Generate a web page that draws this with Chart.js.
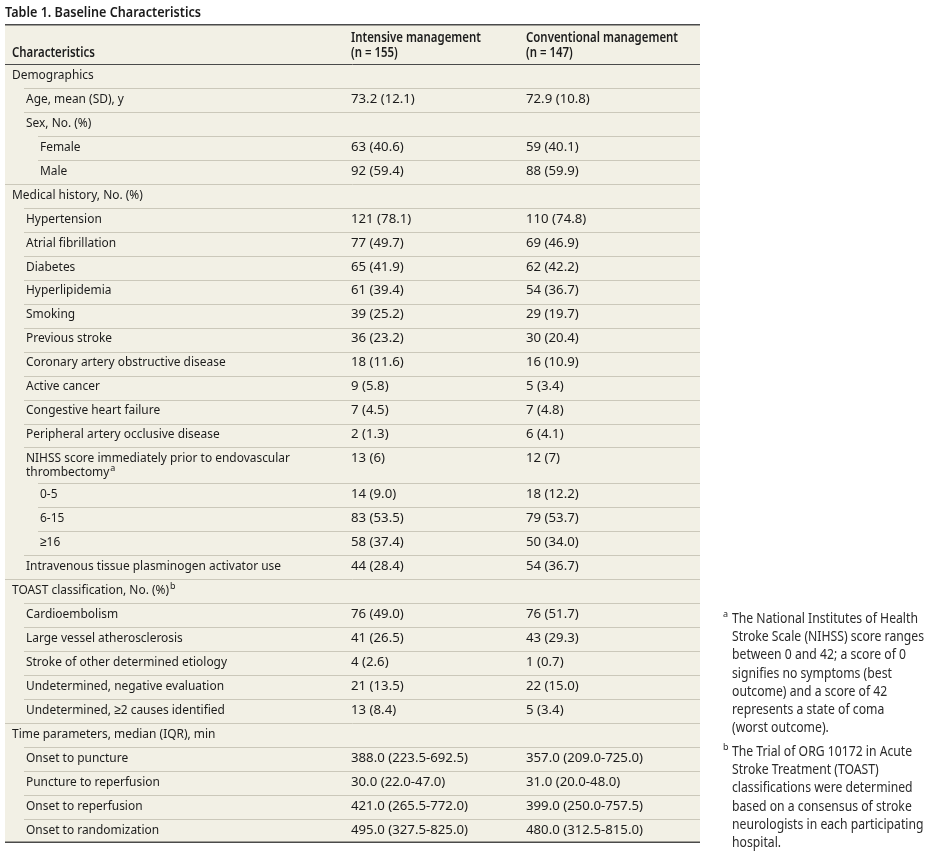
<!DOCTYPE html>
<html>
<head>
<meta charset="utf-8">
<script src="https://cdn.jsdelivr.net/npm/chart.js@4/dist/chart.umd.min.js"></script>
<style>
html,body{margin:0;padding:0;background:#fff;}
body{width:931px;height:852px;position:relative;overflow:hidden;font-family:"Noto Sans",sans-serif;color:#1e1e1e;}
#box{position:absolute;left:0;top:0;width:931px;height:852px;}
#title{position:absolute;left:5px;top:2px;line-height:18px;font-weight:600;white-space:nowrap;color:#1a1a1a;transform-origin:0 0;}
.note{position:absolute;left:723px;white-space:nowrap;color:#2a2a2a;line-height:18.2px;}
.note .mk{position:absolute;left:0;top:-4px;font-size:9px;}
.note .tx{display:block;margin-left:9px;transform-origin:0 0;}
</style>
</head>
<body>
<div id="box"><canvas id="tbl" width="931" height="852"></canvas></div>
<div id="title"></div>
<div class="note" id="noteA" style="top:609px"></div>
<div class="note" id="noteB" style="top:742px"></div>
<script>
// ---- data ----
const titleText = 'Table 1. Baseline Characteristics';
const headCharacteristics = 'Characteristics';
const groupNames = ['Intensive management', 'Conventional management'];
const groupNs = ['(n = 155)', '(n = 147)'];

const rowLabels = [
  'Demographics',
  'Age, mean (SD), y',
  'Sex, No. (%)',
  'Female',
  'Male',
  'Medical history, No. (%)',
  'Hypertension',
  'Atrial fibrillation',
  'Diabetes',
  'Hyperlipidemia',
  'Smoking',
  'Previous stroke',
  'Coronary artery obstructive disease',
  'Active cancer',
  'Congestive heart failure',
  'Peripheral artery occlusive disease',
  'NIHSS score immediately prior to endovascular\nthrombectomy',
  '0-5',
  '6-15',
  '≥16',
  'Intravenous tissue plasminogen activator use',
  'TOAST classification, No. (%)',
  'Cardioembolism',
  'Large vessel atherosclerosis',
  'Stroke of other determined etiology',
  'Undetermined, negative evaluation',
  'Undetermined, ≥2 causes identified',
  'Time parameters, median (IQR), min',
  'Onset to puncture',
  'Puncture to reperfusion',
  'Onset to reperfusion',
  'Onset to randomization'
];
const rowLevels = [0,1,1,2,2,0,1,1,1,1,1,1,1,1,1,1,1,2,2,2,1,0,1,1,1,1,1,0,1,1,1,1];
const rowNotes = ['','','','','','','','','','','','','','','','','a','','','','','b','','','','','','','','','',''];
const intensive = [
  '', '73.2 (12.1)', '', '63 (40.6)', '92 (59.4)',
  '', '121 (78.1)', '77 (49.7)', '65 (41.9)', '61 (39.4)', '39 (25.2)', '36 (23.2)',
  '18 (11.6)', '9 (5.8)', '7 (4.5)', '2 (1.3)', '13 (6)', '14 (9.0)', '83 (53.5)',
  '58 (37.4)', '44 (28.4)',
  '', '76 (49.0)', '41 (26.5)', '4 (2.6)', '21 (13.5)', '13 (8.4)',
  '', '388.0 (223.5-692.5)', '30.0 (22.0-47.0)', '421.0 (265.5-772.0)', '495.0 (327.5-825.0)'
];
const conventional = [
  '', '72.9 (10.8)', '', '59 (40.1)', '88 (59.9)',
  '', '110 (74.8)', '69 (46.9)', '62 (42.2)', '54 (36.7)', '29 (19.7)', '30 (20.4)',
  '16 (10.9)', '5 (3.4)', '7 (4.8)', '6 (4.1)', '12 (7)', '18 (12.2)', '79 (53.7)',
  '50 (34.0)', '54 (36.7)',
  '', '76 (51.7)', '43 (29.3)', '1 (0.7)', '22 (15.0)', '5 (3.4)',
  '', '357.0 (209.0-725.0)', '31.0 (20.0-48.0)', '399.0 (250.0-757.5)', '480.0 (312.5-815.0)'
];
const notesA = [
  'The National Institutes of Health',
  'Stroke Scale (NIHSS) score ranges',
  'between 0 and 42; a score of 0',
  'signifies no symptoms (best',
  'outcome) and a score of 42',
  'represents a state of coma',
  '(worst outcome).'
];
const notesB = [
  'The Trial of ORG 10172 in Acute',
  'Stroke Treatment (TOAST)',
  'classifications were determined',
  'based on a consensus of stroke',
  'neurologists in each participating',
  'hospital.'
];

// ---- layout ----
const FAM = '"Noto Sans", sans-serif';
const ROW_PX = 24;            // one row unit
const HEAD_UNITS = 40 / 24;   // header block height in row units
const LINE_GAP = 13.5;        // px between wrapped lines
const labelIndent = [7, 21, 35];
const ruleIndent = [0, 19, 33];
const colX = [346, 521];
const cream = '#f2f0e5';
const lightRule = '#cbc8ba';
const darkRule = '#4a4a4a';
const ink = '#1c1c1c';

const BODY_PX = 13.4, HEAD_PX = 13.4, TITLE_PX = 14.6, NOTE_PX = 13.8;

// horizontal squeeze so a sample string spans its measured width
const mctx = document.createElement('canvas').getContext('2d');
function squeeze(text, weight, size, width){
  mctx.font = `${weight} ${size}px ${FAM}`;
  return Math.min(1.06, width / mctx.measureText(text).width);
}
const bodySx = squeeze('Intravenous tissue plasminogen activator use', 400, BODY_PX, 255);
const valSx = squeeze('388.0 (223.5-692.5)', 400, BODY_PX, 117);
const headSx = squeeze('Conventional management', 600, HEAD_PX, 152);
const titleSx = squeeze(titleText, 600, TITLE_PX, 196);
const noteSx = squeeze('Stroke Scale (NIHSS) score ranges', 400, NOTE_PX, 192);

// row geometry in row units
const rowHeights = rowLabels.map(l => 1 + (l.split('\n').length - 1) * 0.5);
const rowTops = [];
rowHeights.reduce((acc, h) => { rowTops.push(acc); return acc + h; }, 0);
const totalUnits = rowHeights.reduce((a, b) => a + b, 0);

// ---- html text ----
const t = document.getElementById('title');
t.textContent = titleText;
t.style.fontSize = TITLE_PX + 'px';
t.style.transform = `scaleX(${titleSx})`;
function fillNote(id, mark, lines){
  const el = document.getElementById(id);
  el.style.fontSize = NOTE_PX + 'px';
  el.innerHTML = `<span class="mk">${mark}</span><span class="tx" style="transform:scaleX(${noteSx})">` + lines.join('<br>') + '</span>';
}
fillNote('noteA', 'a', notesA);
fillNote('noteB', 'b', notesB);

// ---- table plugin ----
function hline(ctx, x0, x1, y, color, w){
  ctx.save();
  ctx.strokeStyle = color; ctx.lineWidth = w;
  ctx.beginPath(); ctx.moveTo(x0, y); ctx.lineTo(x1, y); ctx.stroke();
  ctx.restore();
}
function text(ctx, s, x, y, sx){
  ctx.save();
  ctx.translate(x, y);
  ctx.scale(sx, 1);
  ctx.fillText(s, 0, 0);
  const w = ctx.measureText(s).width * sx;
  ctx.restore();
  return w;
}
function drawSup(ctx, x, y, mark){
  ctx.save();
  ctx.font = `400 9px ${FAM}`;
  ctx.fillText(mark, x + 1, y - 4);
  ctx.restore();
}

const tablePlugin = {
  id: 'tablePlugin',
  beforeDraw(chart){
    const {ctx, chartArea: a} = chart;
    ctx.save();
    ctx.fillStyle = cream;
    ctx.fillRect(a.left, a.top, a.right - a.left, a.bottom - a.top);
    ctx.restore();
  },
  afterDatasetsDraw(chart){
    const {ctx, chartArea: a, scales: {x, y}} = chart;
    const pts = chart.getDatasetMeta(0).data;
    ctx.save();
    ctx.textBaseline = 'middle';
    ctx.fillStyle = ink;

    // header
    const hTop = y.getPixelForValue(-HEAD_UNITS);
    const hBot = y.getPixelForValue(0);
    const l2 = hBot - 10.5, l1 = l2 - 15;
    ctx.font = `600 ${HEAD_PX}px ${FAM}`;
    text(ctx, headCharacteristics, x.getPixelForValue(labelIndent[0]), l2, headSx);
    groupNames.forEach((g, i) => {
      const cx = x.getPixelForValue(colX[i]);
      text(ctx, g, cx, l1, headSx);
      text(ctx, groupNs[i], cx, l2, headSx);
    });

    // rows
    rowLabels.forEach((lab, i) => {
      const py = pts[i].y;
      const top = y.getPixelForValue(rowTops[i]);
      if (i > 0) hline(ctx, x.getPixelForValue(ruleIndent[rowLevels[i]]), a.right, Math.round(top) + 0.5, lightRule, 1);
      const lx = x.getPixelForValue(labelIndent[rowLevels[i]]);
      ctx.font = `400 ${BODY_PX}px ${FAM}`;
      const lines = lab.split('\n');
      lines.forEach((ln, k) => {
        const ly = py + k * LINE_GAP;
        const w = text(ctx, ln, lx, ly, bodySx);
        if (k === lines.length - 1 && rowNotes[i]) drawSup(ctx, lx + w, ly, rowNotes[i]);
      });
      ctx.font = `400 ${BODY_PX}px ${FAM}`;
      text(ctx, intensive[i], x.getPixelForValue(colX[0]), py, valSx);
      text(ctx, conventional[i], x.getPixelForValue(colX[1]), py, valSx);
    });

    // heavy rules
    hline(ctx, a.left, a.right, hTop + 0.75, darkRule, 1.5);
    hline(ctx, a.left, a.right, Math.round(hBot) + 0.5, darkRule, 1);
    hline(ctx, a.left, a.right, a.bottom - 0.75, darkRule, 1.5);
    ctx.restore();
  }
};

new Chart(document.getElementById('tbl'), {
  type: 'scatter',
  data: {
    datasets: [{
      label: 'rows',
      data: rowLabels.map((l, i) => ({x: 0, y: rowTops[i] + 0.5 - 1 / ROW_PX})),
      pointRadius: 0,
      pointHoverRadius: 0
    }]
  },
  options: {
    responsive: false,
    animation: false,
    devicePixelRatio: 1,
    events: [],
    layout: {padding: {left: 5, top: 24, right: 231, bottom: 9}},
    plugins: {legend: {display: false}, tooltip: {enabled: false}, title: {display: false}},
    scales: {
      x: {type: 'linear', display: false, min: 0, max: 695},
      y: {type: 'linear', display: false, reverse: true, min: -HEAD_UNITS, max: totalUnits}
    }
  },
  plugins: [tablePlugin]
});
</script>
</body>
</html>
